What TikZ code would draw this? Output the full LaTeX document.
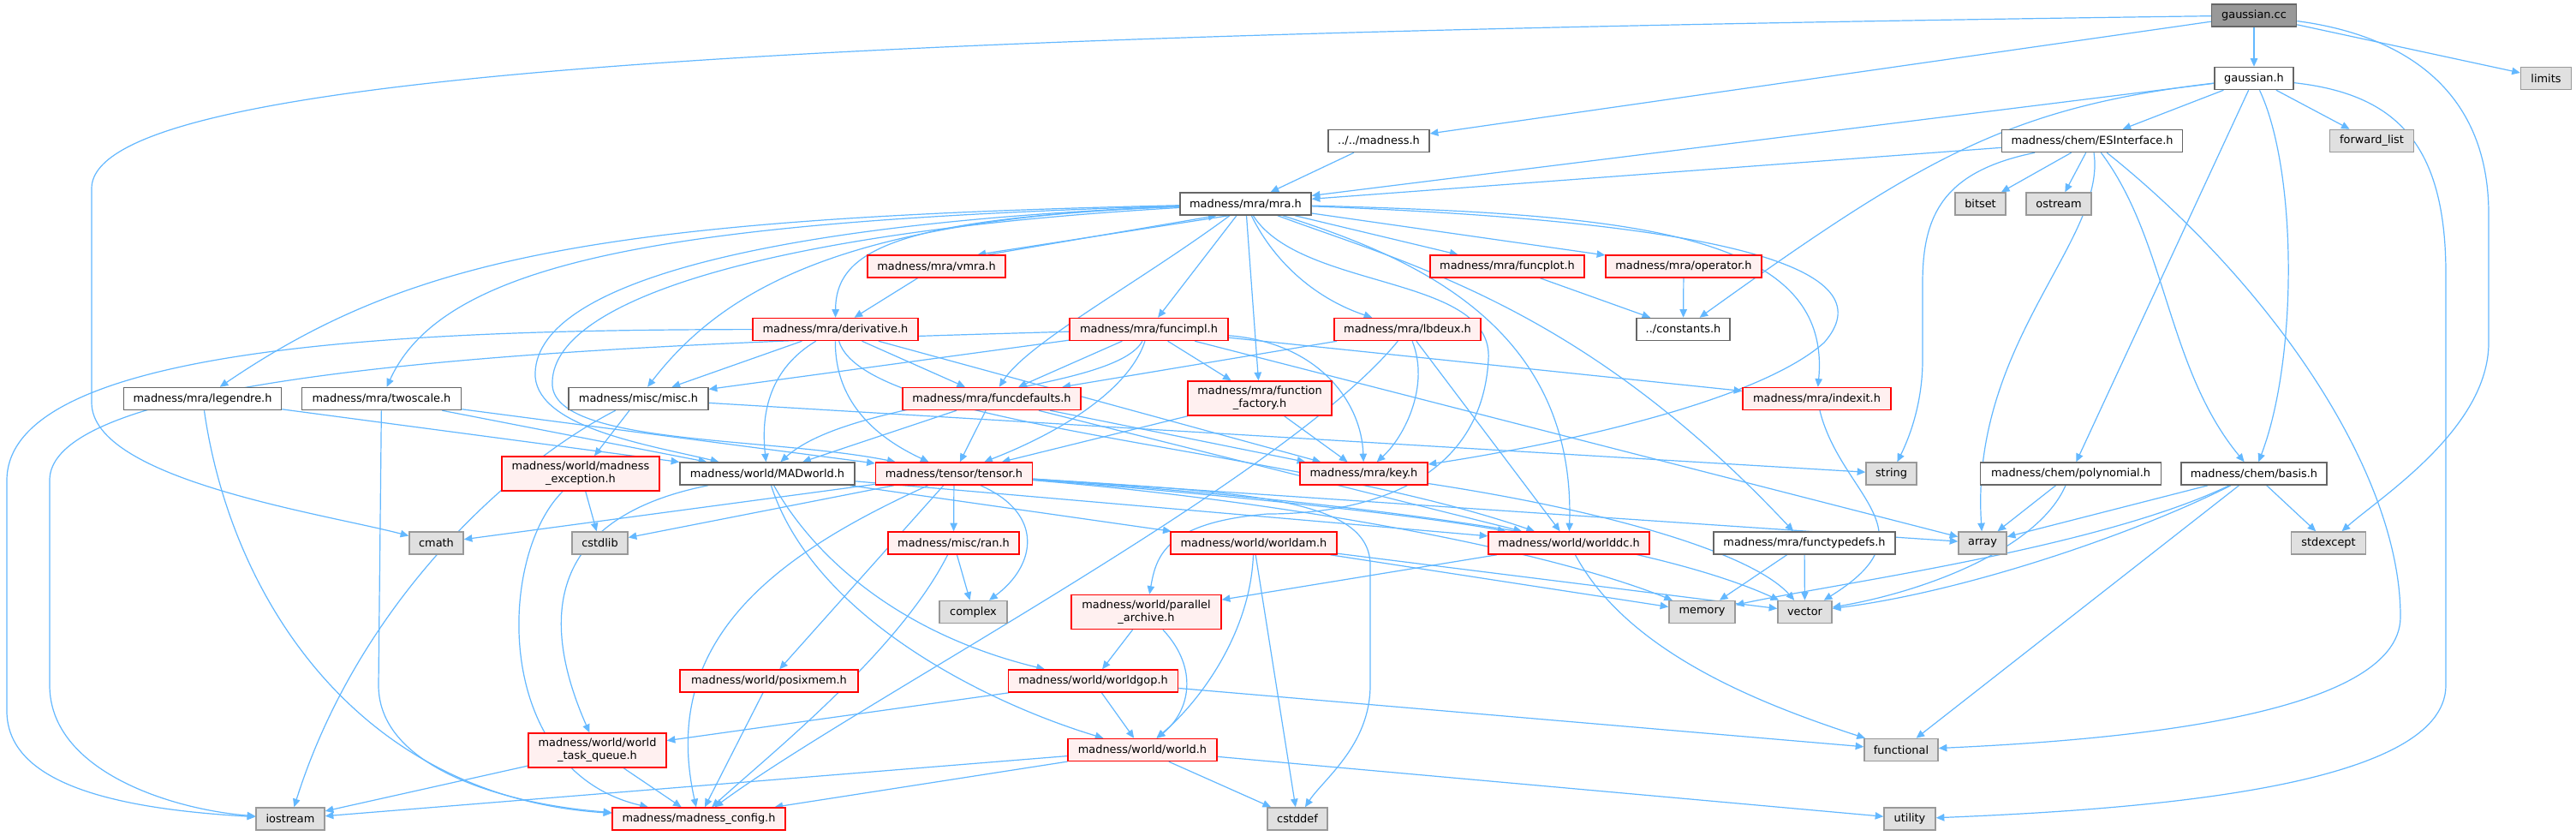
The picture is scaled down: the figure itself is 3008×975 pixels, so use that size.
\documentclass[tikz,border=0pt]{standalone}
\usepackage{fontspec}
\setmainfont{DejaVu Sans}
\usetikzlibrary{arrows.meta}
\definecolor{edgec}{HTML}{63B8FF}
\definecolor{rfill}{HTML}{FFF0F0}
\definecolor{gfill}{HTML}{E0E0E0}
\definecolor{gbord}{HTML}{999999}
\definecolor{wbord}{HTML}{666666}
\definecolor{rootfill}{HTML}{999999}
\pgfdeclarelayer{bg}
\pgfsetlayers{bg,main}
\newcommand{\fs}{\fontsize{6.45pt}{7.5pt}\selectfont}
\tikzset{
  nb/.style={line width=0.75pt, minimum height=13pt, inner sep=0pt, font=\fs, align=center, text=black},
  wnode/.style={nb, draw=wbord, fill=white},
  rnode/.style={nb, draw=red, fill=rfill},
  rnode2/.style={rnode, minimum height=20pt},
  gnode/.style={nb, draw=gbord, fill=gfill},
  root/.style={nb, draw=wbord, fill=rootfill},
  dep/.style={draw=edgec, line width=0.6pt, -{Triangle[length=4.8pt,width=4.2pt]}}
}
\begin{document}
\begin{tikzpicture}[x=0.5pt, y=-0.5pt]
\useasboundingbox (0,0) rectangle (3008,975);
% nodes
\node[root, minimum width=49.5pt] (gcc) at (2632,18) {gaussian.cc};
\node[wnode, minimum width=46pt] (gh) at (2632,91.5) {gaussian.h};
\node[gnode, minimum width=29.5pt] (limits) at (2973,91.5) {limits};
\node[wnode, minimum width=105.5pt] (esi) at (2443,164.5) {madness/chem/ESInterface.h};
\node[gnode, minimum width=49pt] (fwd) at (2769.5,164.5) {forward\_list};
\node[gnode, minimum width=29.5pt] (bitset) at (2312.5,238) {bitset};
\node[gnode, minimum width=38pt] (ostream) at (2404,238) {ostream};
\node[wnode, minimum width=59pt] (madh) at (1610,164.5) {../../madness.h};
\node[wnode, minimum width=76.5pt] (mra) at (1454.5,238) {madness/mra/mra.h};
\node[rnode, minimum width=80.5pt] (vmra) at (1093.5,311) {madness/mra/vmra.h};
\node[rnode, minimum width=90pt] (funcplot) at (1760,311) {madness/mra/funcplot.h};
\node[rnode, minimum width=91pt] (operator) at (1966,311) {madness/mra/operator.h};
\node[rnode, minimum width=96.5pt] (deriv) at (975.5,384.5) {madness/mra/derivative.h};
\node[rnode, minimum width=92.5pt] (funcimpl) at (1341.5,384.5) {madness/mra/funcimpl.h};
\node[rnode, minimum width=85.5pt] (lbdeux) at (1643.5,384.5) {madness/mra/lbdeux.h};
\node[wnode, minimum width=54.5pt] (const) at (1965.5,384.5) {../constants.h};
\node[wnode, minimum width=92pt] (legendre) at (236.5,465.5) {madness/mra/legendre.h};
\node[wnode, minimum width=93pt] (twoscale) at (445.5,465.5) {madness/mra/twoscale.h};
\node[wnode, minimum width=81.5pt] (misc) at (745.5,465.5) {madness/misc/misc.h};
\node[rnode, minimum width=104pt] (funcdef) at (1158,465.5) {madness/mra/funcdefaults.h};
\node[rnode2, minimum width=84pt] (ffact) at (1471,465) {madness/mra/function\\\_factory.h};
\node[rnode, minimum width=86.5pt] (indexit) at (2121.5,465.5) {madness/mra/indexit.h};
\node[rnode2, minimum width=92pt] (mexc) at (678,553) {madness/world/madness\\\_exception.h};
\node[wnode, minimum width=102pt] (madworld) at (896,553) {madness/world/MADworld.h};
\node[rnode, minimum width=91.5pt] (tensor) at (1114,553) {madness/tensor/tensor.h};
\node[rnode, minimum width=74.5pt] (key) at (1592.5,553) {madness/mra/key.h};
\node[gnode, minimum width=29.5pt] (string) at (2208.5,553) {string};
\node[wnode, minimum width=105.5pt] (poly) at (2418,553) {madness/chem/polynomial.h};
\node[wnode, minimum width=85pt] (basis) at (2632,553) {madness/chem/basis.h};
\node[gnode, minimum width=31.5pt] (cmath) at (509.5,634) {cmath};
\node[gnode, minimum width=32.5pt] (cstdlib) at (700.5,634) {cstdlib};
\node[rnode, minimum width=76.5pt] (ran) at (1113.5,634) {madness/misc/ran.h};
\node[rnode, minimum width=97pt] (worldam) at (1464,634) {madness/world/worldam.h};
\node[rnode, minimum width=94pt] (worlddc) at (1832,634) {madness/world/worlddc.h};
\node[wnode, minimum width=106pt] (ftd) at (2107,634) {madness/mra/functypedefs.h};
\node[gnode, minimum width=28pt] (array) at (2315,634) {array};
\node[gnode, minimum width=43.5pt] (stdexcept) at (2719,634) {stdexcept};
\node[gnode, minimum width=39.5pt] (complex) at (1136.5,714.5) {complex};
\node[rnode2, minimum width=87.5pt] (parch) at (1338.5,714.5) {madness/world/parallel\\\_archive.h};
\node[gnode, minimum width=38.5pt] (memory) at (1987.5,714.5) {memory};
\node[gnode, minimum width=31.5pt] (vector) at (2107.5,714.5) {vector};
\node[rnode, minimum width=104pt] (posixmem) at (898,795) {madness/world/posixmem.h};
\node[rnode, minimum width=99pt] (worldgop) at (1276.5,795) {madness/world/worldgop.h};
\node[rnode2, minimum width=80.5pt] (wtq) at (697.5,876) {madness/world/world\\\_task\_queue.h};
\node[rnode, minimum width=87pt] (world) at (1334,875.5) {madness/world/world.h};
\node[gnode, minimum width=43pt] (functional) at (2220,875.5) {functional};
\node[gnode, minimum width=40pt] (iostream) at (339,956) {iostream};
\node[rnode, minimum width=101pt] (mconfig) at (816,956) {madness/madness\_config.h};
\node[gnode, minimum width=35pt] (cstddef) at (1515,956) {cstddef};
\node[gnode, minimum width=30pt] (utility) at (2230,956) {utility};
\begin{pgfonlayer}{bg}
\fill[white] (0,0) rectangle (3008,975);
% edges: gaussian.cc
\draw[dep] (gcc) -- (gh);
\draw[dep] (gcc) -- (limits);
\draw[dep] (gcc) -- (madh);
\draw[dep] (gcc) .. controls (1000,40) and (107,80) .. (107,220) -- (107,470) .. controls (107,560) and (380,600) .. (cmath);
\draw[dep] (gcc) .. controls (2800,40) and (2906,100) .. (2906,250) -- (2906,400) .. controls (2906,500) and (2780,580) .. (stdexcept);
% gaussian.h
\draw[dep] (gh) -- (mra);
\draw[dep] (gh) -- (esi);
\draw[dep] (gh) -- (fwd);
\draw[dep] (gh) .. controls (2350,125) and (2250,180) .. (const);
\draw[dep] (gh) -- (poly);
\draw[dep] (gh) .. controls (2683,200) and (2683,420) .. (basis);
\draw[dep] (gh) .. controls (2800,110) and (2856,170) .. (2856,320) -- (2856,800) .. controls (2856,920) and (2500,945) .. (utility);
% ESInterface
\draw[dep] (esi) -- (mra);
\draw[dep] (esi) -- (bitset);
\draw[dep] (esi) -- (ostream);
\draw[dep] (esi) .. controls (2270,200) and (2245,250) .. (2245,330) -- (2245,420) .. controls (2245,470) and (2230,510) .. (string);
\draw[dep] (esi) .. controls (2460,280) and (2300,400) .. (array);
\draw[dep] (esi) .. controls (2530,280) and (2530,430) .. (basis);
\draw[dep] (esi) .. controls (2650,330) and (2803,550) .. (2803,720) .. controls (2803,840) and (2450,865) .. (functional);
\draw[dep] (madh) -- (mra);
% mra.h
\draw[dep] ([xshift=-10pt]mra.south) -- ([xshift=24pt]vmra.north);
\draw[dep] ([xshift=30pt]vmra.north) -- ([xshift=-17pt]mra.south);
\draw[dep] (mra) .. controls (1050,255) and (976,290) .. (deriv);
\draw[dep] (mra) -- (funcimpl);
\draw[dep] (mra) -- (ffact);
\draw[dep] (mra) .. controls (1330,330) and (1200,400) .. (funcdef);
\draw[dep] (mra) .. controls (1000,255) and (850,330) .. (misc);
\draw[dep] (mra) .. controls (700,255) and (480,300) .. (legendre);
\draw[dep] (mra) .. controls (800,258) and (520,300) .. (twoscale);
\draw[dep] (mra) -- (funcplot);
\draw[dep] (mra) -- (operator);
\draw[dep] (mra) .. controls (1490,310) and (1540,350) .. (lbdeux);
\draw[dep] (mra) .. controls (1900,250) and (2140,270) .. (indexit);
\draw[dep] (mra) .. controls (2050,260) and (2200,320) .. (2130,400) .. controls (2040,480) and (1750,530) .. (key);
\draw[dep] (mra) .. controls (1650,300) and (1840,380) .. (worlddc);
\draw[dep] (mra) .. controls (1650,310) and (1850,360) .. (ftd);
\draw[dep] (mra) .. controls (1520,340) and (1745,320) .. (1738,420) .. controls (1730,560) and (1600,600) .. (1480,600) .. controls (1360,610) and (1350,650) .. (parch);
\draw[dep] (mra) .. controls (900,260) and (620,330) .. (625,440) .. controls (630,500) and (760,520) .. (madworld);
\draw[dep] (mra) .. controls (900,270) and (640,350) .. (645,450) .. controls (650,520) and (900,510) .. (tensor);
\draw[dep] (vmra) -- (deriv);
% derivative
\draw[dep] (deriv) -- (misc);
\draw[dep] (deriv) -- (funcdef);
\draw[dep] (deriv) .. controls (900,430) and (888,480) .. (madworld);
\draw[dep] (deriv) .. controls (975,450) and (1000,500) .. (tensor);
\draw[dep] (deriv) .. controls (1010,500) and (1500,520) .. (worlddc);
\draw[dep] (deriv) -- (key);
\draw[dep] (deriv) .. controls (500,385) and (10,400) .. (8,560) -- (8,830) .. controls (8,920) and (150,945) .. (iostream);
% funcimpl
\draw[dep] (funcimpl) .. controls (800,400) and (60,420) .. (58,560) -- (58,800) .. controls (58,900) and (200,945) .. (iostream);
\draw[dep] (funcimpl) -- (misc);
\draw[dep] (funcimpl) -- (funcdef);
\draw[dep] (funcimpl) -- (ffact);
\draw[dep] (funcimpl) .. controls (1540,400) and (1590,470) .. (key);
\draw[dep] (funcimpl) -- (indexit);
\draw[dep] (funcimpl) .. controls (1300,460) and (1000,460) .. (madworld);
\draw[dep] (funcimpl) .. controls (1320,450) and (1250,500) .. (tensor);
\draw[dep] (funcimpl) -- (array);
% funcdefaults
\draw[dep] (funcdef) -- (madworld);
\draw[dep] (funcdef) -- (tensor);
\draw[dep] (funcdef) -- (key);
\draw[dep] (funcdef) -- (worlddc);
\draw[dep] (ffact) -- (key);
\draw[dep] (ffact) -- (tensor);
% lbdeux
\draw[dep] (lbdeux) -- (funcdef);
\draw[dep] (lbdeux) .. controls (1670,450) and (1640,510) .. (key);
\draw[dep] (lbdeux) -- (worlddc);
\draw[dep] (lbdeux) .. controls (1500,560) and (1000,820) .. (mconfig);
\draw[dep] (funcplot) -- (const);
\draw[dep] (operator) -- (const);
% misc
\draw[dep] (misc) -- (mexc);
\draw[dep] (misc) .. controls (600,540) and (420,700) .. (iostream);
\draw[dep] (misc) -- (string);
% legendre, twoscale
\draw[dep] (legendre) -- (madworld);
\draw[dep] (legendre) .. controls (270,700) and (420,930) .. (mconfig);
\draw[dep] (twoscale) -- (442,800) .. controls (442,900) and (600,940) .. (mconfig);
\draw[dep] (twoscale) -- (madworld);
\draw[dep] (twoscale) -- (tensor);
% madness_exception
\draw[dep] (mexc) -- (cstdlib);
\draw[dep] (mexc) .. controls (580,650) and (575,900) .. (mconfig);
% MADworld
\draw[dep] (madworld) .. controls (660,600) and (620,700) .. (wtq);
\draw[dep] (madworld) .. controls (950,650) and (1050,740) .. (worldgop);
\draw[dep] (madworld) .. controls (950,720) and (1150,820) .. (world);
\draw[dep] (madworld) -- (worldam);
\draw[dep] (madworld) -- (worlddc);
% tensor
\draw[dep] (tensor) -- (ran);
\draw[dep] (tensor) .. controls (1220,600) and (1210,660) .. (complex);
\draw[dep] (tensor) -- (posixmem);
\draw[dep] (tensor) .. controls (900,650) and (770,750) .. (mconfig);
\draw[dep] (tensor) -- (cstdlib);
\draw[dep] (tensor) -- (cmath);
\draw[dep] (tensor) -- (array);
\draw[dep] (tensor) .. controls (1500,580) and (1900,620) .. (vector);
\draw[dep] (tensor) .. controls (1500,585) and (1800,640) .. (memory);
\draw[dep] (tensor) .. controls (1450,575) and (1600,580) .. (1600,660) -- (1600,800) .. controls (1600,870) and (1545,910) .. (cstddef);
\draw[dep] (tensor) .. controls (1400,575) and (1650,600) .. (worlddc);
% key
\draw[dep] (key) .. controls (1900,600) and (2050,650) .. (vector);
% worldam
\draw[dep] (worldam) .. controls (1460,740) and (1400,820) .. (world);
\draw[dep] (worldam) -- (cstddef);
\draw[dep] (worldam) -- (memory);
\draw[dep] (worldam) -- (vector);
% worlddc
\draw[dep] (worlddc) -- (parch);
\draw[dep] (worlddc) .. controls (1900,760) and (2050,820) .. (functional);
\draw[dep] (ftd) -- (memory);
\draw[dep] (ftd) -- (vector);
\draw[dep] (indexit) .. controls (2150,580) and (2260,620) .. (vector);
% parallel archive etc.
\draw[dep] (parch) -- (worldgop);
\draw[dep] (parch) .. controls (1400,780) and (1390,830) .. (world);
\draw[dep] (posixmem) -- (mconfig);
\draw[dep] (ran) -- (complex);
\draw[dep] (ran) .. controls (1050,760) and (900,880) .. (mconfig);
\draw[dep] (worldgop) -- (wtq);
\draw[dep] (worldgop) -- (world);
\draw[dep] (worldgop) -- (functional);
\draw[dep] (wtq) -- (iostream);
\draw[dep] (wtq) -- (mconfig);
\draw[dep] (world) -- (mconfig);
\draw[dep] (world) -- (iostream);
\draw[dep] (world) -- (cstddef);
\draw[dep] (world) -- (utility);
% chem
\draw[dep] (poly) -- (array);
\draw[dep] (poly) .. controls (2380,640) and (2250,690) .. (vector);
\draw[dep] (basis) -- (array);
\draw[dep] (basis) -- (stdexcept);
\draw[dep] (basis) -- (functional);
\draw[dep] (basis) .. controls (2500,620) and (2300,690) .. (vector);
\draw[dep] (basis) .. controls (2450,640) and (2150,680) .. (memory);
\end{pgfonlayer}
\end{tikzpicture}
\end{document}
